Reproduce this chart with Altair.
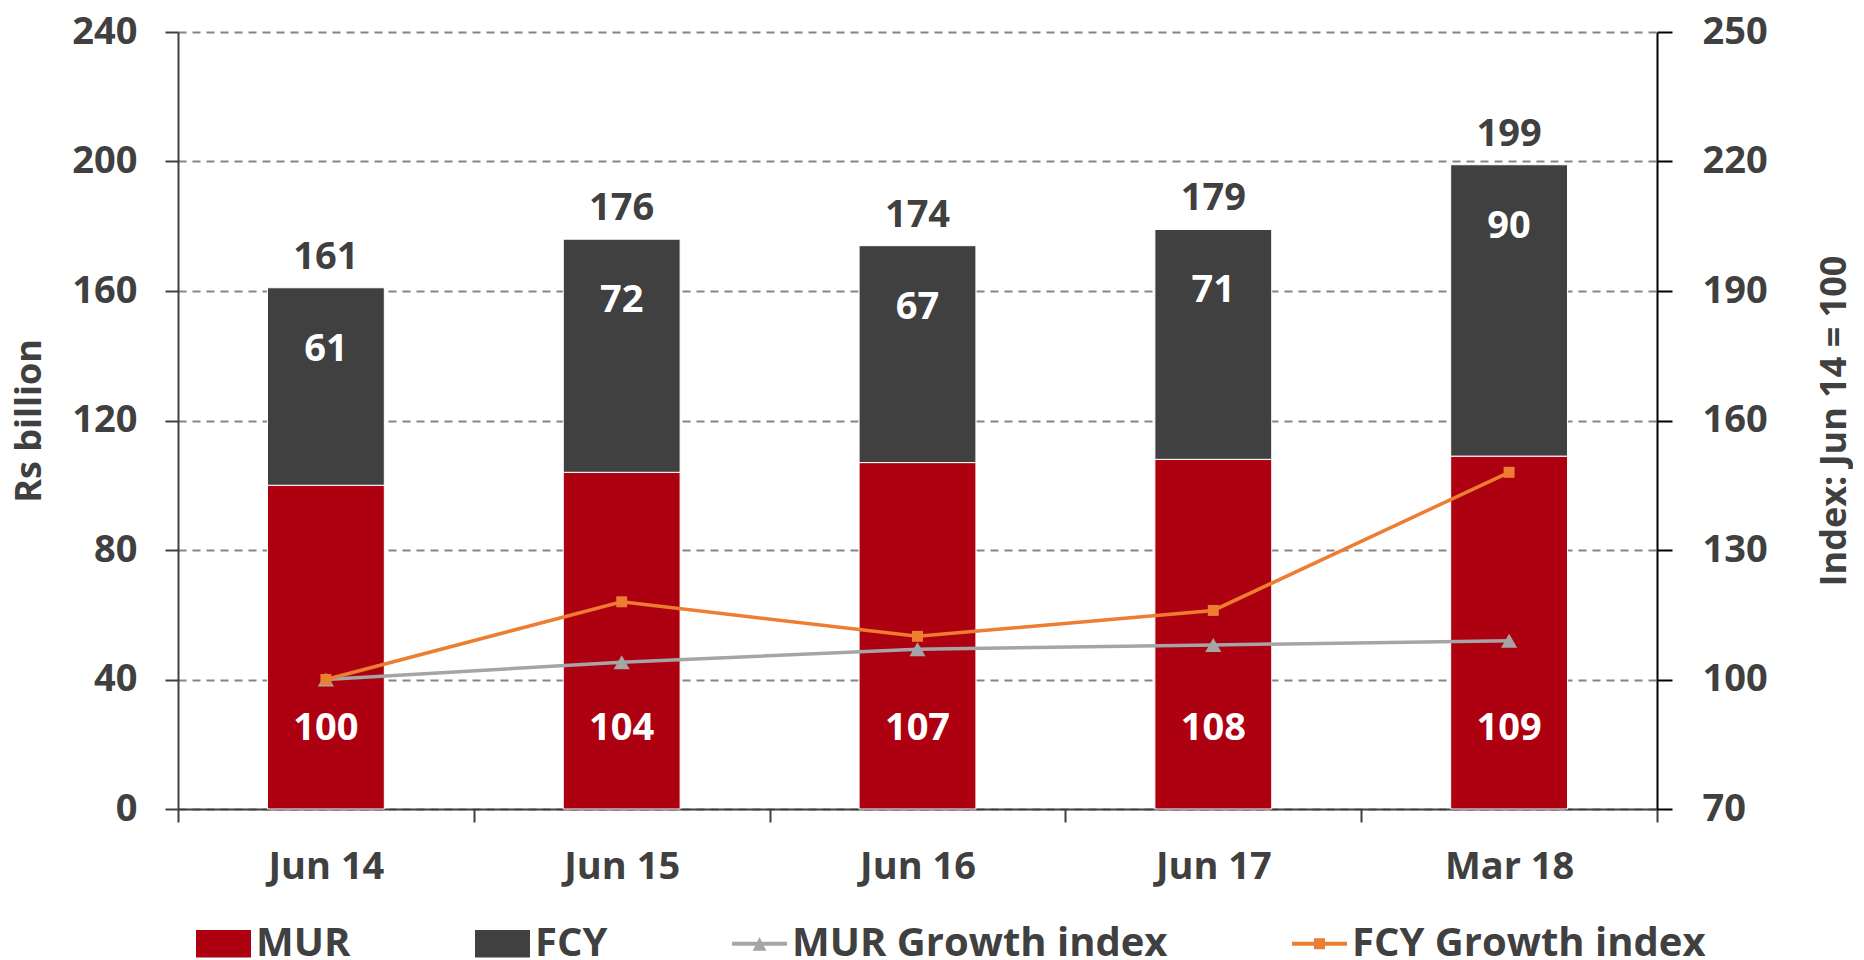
import altair as alt
import pandas as pd

periods = ["Jun 14", "Jun 15", "Jun 16", "Jun 17", "Mar 18"]
mur = [100, 104, 107, 108, 109]
fcy = [61, 72, 67, 71, 90]
total = [161, 176, 174, 179, 199]
mur_index = [100, 104, 107, 108, 109]
fcy_index = [100, 118, 110, 116, 148]

series_names = ["MUR", "FCY", "MUR Growth index", "FCY Growth index"]
series_colors = ["#AD0010", "#404040", "#A5A5A5", "#ED7D31"]
legend_shapes = [
    "M-1,-0.5H1V0.5H-1Z",
    "M-1,-0.5H1V0.5H-1Z",
    "M-1,-0.07H1V0.07H-1Z M-0.25,0.25L0,-0.25L0.25,0.25Z",
    "M-1,-0.07H1V0.07H-1Z M-0.2,-0.2H0.2V0.2H-0.2Z",
]

FONT = "Open Sans"
TXT = "#404040"
FS = 38

wide = pd.DataFrame({
    "period": periods, "mur": mur, "fcy": fcy, "total": total,
    "mur_index": mur_index, "fcy_index": fcy_index,
})
bars_df = pd.DataFrame({
    "period": periods * 2,
    "series": ["MUR"] * 5 + ["FCY"] * 5,
    "value": mur + fcy,
    "order": [0] * 5 + [1] * 5,
})
legend_df = pd.DataFrame({"series": series_names})

x_scale = alt.Scale(domain=periods, paddingInner=0, paddingOuter=0)
y_scale = alt.Scale(domain=[0, 240], nice=False, zero=True)
y2_scale = alt.Scale(domain=[70, 250], nice=False, zero=False)
color_scale = alt.Scale(domain=series_names, range=series_colors)

x_axis = alt.Axis(labelAngle=0, tickBand="extent", tickSize=13, tickWidth=2,
                  tickColor=TXT, domainColor=TXT, domainWidth=2,
                  labelPadding=26, labelFontSize=FS, labelFont=FONT,
                  labelFontWeight="bold", labelColor=TXT)


def xe():
    return alt.X("period:N", scale=x_scale, sort=periods, title=None, axis=x_axis)


left_axis = alt.Axis(values=[0, 40, 80, 120, 160, 200, 240], title="Rs billion",
                     grid=True, gridDash=[8, 6], gridColor="#858585", gridWidth=2,
                     tickSize=13, tickWidth=2, tickColor=TXT, domainColor=TXT, domainWidth=2,
                     labelPadding=28, labelFontSize=FS, labelFont=FONT, labelFontWeight="bold",
                     labelColor=TXT, titleFontSize=36, titleFont=FONT, titleFontWeight="bold",
                     titleColor=TXT, titlePadding=23)

right_axis = alt.Axis(values=[70, 100, 130, 160, 190, 220, 250], title="Index: Jun 14 = 100",
                      orient="right", grid=False, tickSize=15, tickWidth=2, tickColor="#000000",
                      domainColor="#000000", domainWidth=2, labelPadding=30, labelFontSize=FS,
                      labelFont=FONT, labelFontWeight="bold", labelColor=TXT,
                      titleFontSize=36, titleFont=FONT, titleFontWeight="bold", titleColor=TXT,
                      titlePadding=50, titleAngle=270, titleBaseline="top")

bars = alt.Chart(bars_df).mark_bar(width=alt.RelativeBandSize(0.395), stroke="white",
                                   strokeWidth=1).encode(
    x=xe(),
    y=alt.Y("value:Q", stack="zero", scale=y_scale, axis=left_axis, title="Rs billion"),
    color=alt.Color("series:N", scale=color_scale, legend=None),
    order=alt.Order("order:Q"),
)

mur_text = alt.Chart(wide).mark_text(font=FONT, fontWeight="bold", fontSize=FS, baseline="middle",
                                     color="white", dy=-80).encode(
    x=xe(),
    y=alt.Y("zero:Q", scale=y_scale, axis=left_axis, title="Rs billion"),
    text="mur:Q",
).transform_calculate(zero="0")
fcy_text = alt.Chart(wide).mark_text(font=FONT, fontWeight="bold", fontSize=FS, baseline="middle",
                                     color="white", dy=62).encode(
    x=xe(),
    y=alt.Y("total:Q", scale=y_scale, axis=left_axis, title="Rs billion"),
    text="fcy:Q",
)
tot_text = alt.Chart(wide).mark_text(font=FONT, fontWeight="bold", fontSize=FS, baseline="middle",
                                     color=TXT, dy=-30).encode(
    x=xe(),
    y=alt.Y("total:Q", scale=y_scale, axis=left_axis, title="Rs billion"),
    text="total:Q",
)

left = alt.layer(bars, mur_text, fcy_text, tot_text)

mur_line = alt.Chart(wide).mark_line(
    color="#A5A5A5", strokeWidth=3.5,
    point=alt.OverlayMarkDef(shape="triangle-up", size=260, filled=True, color="#A5A5A5", opacity=1),
).encode(
    x=xe(),
    y=alt.Y("mur_index:Q", scale=y2_scale, axis=right_axis, title="Index: Jun 14 = 100"),
)
fcy_line = alt.Chart(wide).mark_line(
    color="#ED7D31", strokeWidth=3.5,
    point=alt.OverlayMarkDef(shape="square", size=120, filled=True, color="#ED7D31", opacity=1),
).encode(
    x=xe(),
    y=alt.Y("fcy_index:Q", scale=y2_scale, axis=right_axis, title="Index: Jun 14 = 100"),
)
right = alt.layer(mur_line, fcy_line)

leg_def = alt.Legend(title=None, orient="none", legendX=18, legendY=884,
                     direction="horizontal", columnPadding=124,
                     symbolSize=3025, symbolStrokeWidth=0, symbolOpacity=1,
                     labelFontSize=40, labelFont=FONT, labelFontWeight="bold",
                     labelColor=TXT, labelOffset=5, labelLimit=600)

legend_layer = alt.Chart(legend_df).transform_filter("false").mark_point(filled=True, opacity=1).encode(
    color=alt.Color("series:N", scale=alt.Scale(domain=series_names, range=series_colors), legend=leg_def),
    shape=alt.Shape("series:N", scale=alt.Scale(domain=series_names, range=legend_shapes), legend=leg_def),
)

chart = alt.layer(left, right, legend_layer).resolve_scale(
    y="independent", color="independent", shape="independent"
).properties(
    width=1479, height=777,
    padding={"left": 3, "top": 5, "right": 0, "bottom": 0},
    background="white",
).configure(font=FONT, view=alt.ViewConfig(stroke=None))

chart.save("out.html", embed_options={"renderer": "svg", "actions": False})
